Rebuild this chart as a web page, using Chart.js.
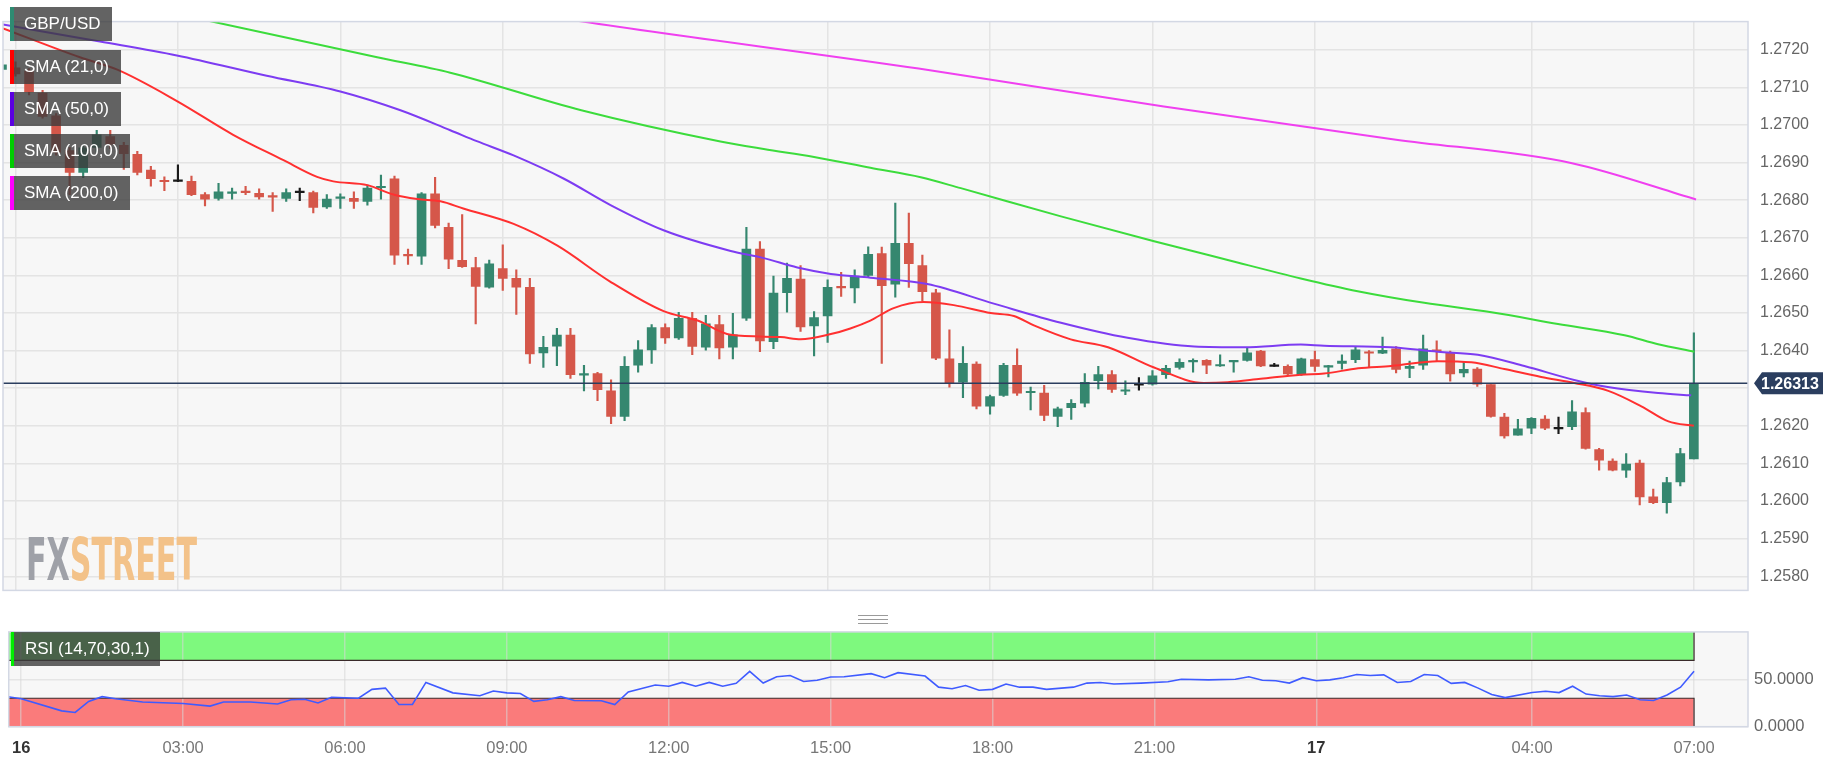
<!DOCTYPE html>
<html>
<head>
<meta charset="utf-8">
<script src="https://cdn.jsdelivr.net/npm/chart.js@4.4.1/dist/chart.umd.min.js"></script>
<style>
  body { margin: 0; background: #fff; font-family: 'Liberation Sans', Arial, sans-serif; }
  #wrap { position: relative; width: 1823px; height: 759px; overflow: hidden; }
  canvas { position: absolute; left: 0; }
  .tag { position: absolute; left: 10px; height: 34px; line-height: 34px; padding-left: 14px; box-sizing: border-box;
         background: rgba(60,60,60,0.8); color: #fff; font-size: 17px; white-space: nowrap; }
  .tag i { position: absolute; left: 0; top: 0; width: 4px; height: 100%; }
  #wm { position: absolute; left: 26px; top: 531px; font: bold 58px 'Liberation Sans Narrow', 'DejaVu Sans Condensed', sans-serif;
        line-height: 58px; white-space: nowrap; transform-origin: 0 0; }
  #grip { position: absolute; left: 858px; top: 615px; width: 30px; height: 7px; border-top: 1px solid #9a9a9a; border-bottom: 1px solid #9a9a9a; }
  #grip:after { content: ''; position: absolute; left: 0; right: 0; top: 3px; border-top: 1px solid #9a9a9a; }
</style>
</head>
<body>
<div id="wrap">
  <canvas id="main" width="1823" height="612" style="top:0"></canvas>
  <canvas id="rsi" width="1823" height="143" style="top:616px"></canvas>

  <div class="tag" style="top:7px;width:102px"><i style="background:#2e8b72"></i>GBP/USD</div>
  <div class="tag" style="top:50px;width:111px"><i style="background:#ff0000"></i>SMA (21,0)</div>
  <div class="tag" style="top:92px;width:111px"><i style="background:#5a00e0"></i>SMA (50,0)</div>
  <div class="tag" style="top:134px;width:120px"><i style="background:#00cc00"></i>SMA (100,0)</div>
  <div class="tag" style="top:176px;width:120px"><i style="background:#ff00ff"></i>SMA (200,0)</div>
  <div class="tag" style="top:632px;left:11px;width:149px"><i style="background:#00ee00;width:3px"></i>RSI (14,70,30,1)</div>

  <div id="wm"><span style="color:#9fa1a8">FX</span><span style="color:#f3c289">STREET</span></div>
  <div id="grip"></div>
</div>

<script>
// 15-minute candles, first one is 23:45 on the 15th, last one is 07:00 on the 17th
const opens = [
  1.27148, 1.27152, 1.27143, 1.27085, 1.27024, 1.26932, 1.26874, 1.26940, 1.26969, 1.26946,
  1.26922, 1.26880, 1.26853, 1.26850, 1.26850, 1.26815, 1.26805, 1.26818, 1.26823, 1.26818,
  1.26810, 1.26805, 1.26820, 1.26820, 1.26782, 1.26805, 1.26805, 1.26797, 1.26833, 1.26857,
  1.26656, 1.26651, 1.26817, 1.26728, 1.26640, 1.26621, 1.26569, 1.26618, 1.26592, 1.26568,
  1.26394, 1.26412, 1.26441, 1.26335, 1.26339, 1.26293, 1.26225, 1.26361, 1.26402, 1.26461,
  1.26434, 1.26486, 1.26409, 1.26469, 1.26409, 1.26486, 1.26670, 1.26424, 1.26554, 1.26590,
  1.26466, 1.26492, 1.26571, 1.26567, 1.26600, 1.26658, 1.26577, 1.26685, 1.26626, 1.26554,
  1.26378, 1.26316, 1.26364, 1.26252, 1.26281, 1.26361, 1.26288, 1.26287, 1.26225, 1.26248,
  1.26260, 1.26320, 1.26336, 1.26292, 1.26308, 1.26311, 1.26336, 1.26355, 1.26370, 1.26374,
  1.26359, 1.26370, 1.26374, 1.26399, 1.26358, 1.26358, 1.26336, 1.26376, 1.26356, 1.26366,
  1.26376, 1.26397, 1.26393, 1.26405, 1.26353, 1.26361, 1.26402, 1.26394, 1.26341, 1.26351,
  1.26310, 1.26223, 1.26175, 1.26194, 1.26218, 1.26192, 1.26198, 1.26235, 1.26137, 1.26106,
  1.26082, 1.26101, 1.26011, 1.25996, 1.26051, 1.26112
];
const highs = [
  1.27170, 1.27168, 1.27150, 1.27092, 1.27030, 1.26940, 1.26945, 1.26986, 1.26986, 1.26954,
  1.26930, 1.26890, 1.26862, 1.26894, 1.26864, 1.26820, 1.26845, 1.26832, 1.26837, 1.26830,
  1.26820, 1.26830, 1.26832, 1.26824, 1.26815, 1.26817, 1.26822, 1.26840, 1.26867, 1.26864,
  1.26670, 1.26820, 1.26861, 1.26739, 1.26762, 1.26648, 1.26641, 1.26681, 1.26615, 1.26592,
  1.26438, 1.26459, 1.26459, 1.26361, 1.26342, 1.26322, 1.26384, 1.26427, 1.26469, 1.26471,
  1.26502, 1.26502, 1.26494, 1.26494, 1.26499, 1.26728, 1.26690, 1.26598, 1.26633, 1.26626,
  1.26504, 1.26588, 1.26608, 1.26615, 1.26676, 1.26675, 1.26792, 1.26766, 1.26654, 1.26563,
  1.26455, 1.26411, 1.26370, 1.26282, 1.26366, 1.26405, 1.26303, 1.26308, 1.26250, 1.26270,
  1.26339, 1.26358, 1.26347, 1.26320, 1.26328, 1.26347, 1.26361, 1.26378, 1.26378, 1.26376,
  1.26389, 1.26373, 1.26409, 1.26401, 1.26366, 1.26362, 1.26380, 1.26399, 1.26361, 1.26389,
  1.26411, 1.26400, 1.26436, 1.26411, 1.26372, 1.26441, 1.26426, 1.26399, 1.26370, 1.26355,
  1.26310, 1.26233, 1.26217, 1.26222, 1.26227, 1.26223, 1.26267, 1.26248, 1.26140, 1.26112,
  1.26126, 1.26109, 1.26032, 1.26063, 1.26140, 1.26447
];
const lows = [
  1.27140, 1.27130, 1.27080, 1.27018, 1.26920, 1.26815, 1.26860, 1.26927, 1.26937, 1.26882,
  1.26867, 1.26837, 1.26825, 1.26849, 1.26812, 1.26785, 1.26800, 1.26803, 1.26815, 1.26803,
  1.26770, 1.26797, 1.26799, 1.26766, 1.26778, 1.26778, 1.26778, 1.26787, 1.26803, 1.26629,
  1.26629, 1.26629, 1.26726, 1.26618, 1.26621, 1.26471, 1.26566, 1.26560, 1.26496, 1.26366,
  1.26355, 1.26360, 1.26326, 1.26293, 1.26267, 1.26206, 1.26214, 1.26343, 1.26366, 1.26419,
  1.26430, 1.26389, 1.26401, 1.26378, 1.26378, 1.26480, 1.26397, 1.26405, 1.26502, 1.26451,
  1.26386, 1.26422, 1.26544, 1.26527, 1.26596, 1.26366, 1.26542, 1.26568, 1.26532, 1.26376,
  1.26303, 1.26275, 1.26245, 1.26231, 1.26278, 1.26281, 1.26242, 1.26214, 1.26198, 1.26217,
  1.26250, 1.26298, 1.26289, 1.26283, 1.26295, 1.26308, 1.26326, 1.26351, 1.26343, 1.26339,
  1.26358, 1.26343, 1.26372, 1.26357, 1.26358, 1.26335, 1.26334, 1.26345, 1.26330, 1.26351,
  1.26368, 1.26355, 1.26392, 1.26341, 1.26328, 1.26350, 1.26372, 1.26319, 1.26330, 1.26305,
  1.26223, 1.26167, 1.26175, 1.26179, 1.26190, 1.26179, 1.26190, 1.26138, 1.26082, 1.26080,
  1.26063, 1.25990, 1.25993, 1.25968, 1.26040, 1.26112
];
const closes = [
  1.27160, 1.27136, 1.27088, 1.27023, 1.26927, 1.26874, 1.26939, 1.26974, 1.26949, 1.26924,
  1.26874, 1.26857, 1.26849, 1.26850, 1.26815, 1.26803, 1.26822, 1.26820, 1.26820, 1.26809,
  1.26808, 1.26820, 1.26820, 1.26781, 1.26803, 1.26807, 1.26797, 1.26832, 1.26837, 1.26654,
  1.26652, 1.26817, 1.26733, 1.26643, 1.26623, 1.26571, 1.26631, 1.26592, 1.26569, 1.26391,
  1.26409, 1.26441, 1.26336, 1.26338, 1.26296, 1.26225, 1.26358, 1.26402, 1.26461, 1.26434,
  1.26486, 1.26411, 1.26471, 1.26407, 1.26442, 1.26670, 1.26426, 1.26553, 1.26592, 1.26463,
  1.26488, 1.26568, 1.26567, 1.26598, 1.26656, 1.26573, 1.26685, 1.26631, 1.26557, 1.26380,
  1.26314, 1.26366, 1.26252, 1.26278, 1.26361, 1.26287, 1.26292, 1.26228, 1.26245, 1.26260,
  1.26316, 1.26336, 1.26297, 1.26296, 1.26308, 1.26333, 1.26353, 1.26369, 1.26373, 1.26361,
  1.26361, 1.26372, 1.26394, 1.26359, 1.26358, 1.26338, 1.26378, 1.26358, 1.26358, 1.26372,
  1.26402, 1.26393, 1.26401, 1.26350, 1.26358, 1.26405, 1.26397, 1.26338, 1.26350, 1.26311,
  1.26225, 1.26173, 1.26192, 1.26220, 1.26194, 1.26192, 1.26237, 1.26140, 1.26109, 1.26082,
  1.26098, 1.26011, 1.25996, 1.26049, 1.26126, 1.26313
];

// moving averages (hours since 00:00 on the 16th)
const sma21Hours = [-0.23, 1.19, 1.88, 2.99, 4.02, 4.94, 5.57, 5.87, 6.50, 6.98, 7.42, 7.85, 8.27, 9.20, 10.01,
  10.99, 11.97, 12.60, 13.21, 14.13, 14.50, 15.06, 15.42, 15.79, 16.22, 16.77, 17.33, 18.01, 18.44, 18.81,
  19.49, 20.18, 21.03, 21.95, 22.39, 23.00, 23.74, 24.17, 24.80, 25.41, 26.27, 26.89, 27.50, 28.18, 28.79,
  29.42, 30.03, 30.53, 31.00];
const sma21 = [1.27257, 1.27180, 1.27147, 1.27063, 1.26974, 1.26907, 1.26862, 1.26850, 1.26840, 1.26815, 1.26803, 1.26797, 1.26778, 1.26737, 1.26679,
  1.26583, 1.26505, 1.26480, 1.26442, 1.26436, 1.26430, 1.26444, 1.26459, 1.26480, 1.26513, 1.26529, 1.26521, 1.26500, 1.26492, 1.26467,
  1.26430, 1.26409, 1.26355, 1.26314, 1.26316, 1.26325, 1.26336, 1.26339, 1.26353, 1.26359, 1.26372, 1.26369, 1.26351, 1.26330, 1.26314,
  1.26293, 1.26252, 1.26212, 1.26200];
const sma50Hours = [-0.23, 1.56, 2.98, 4.64, 6.00, 7.11, 8.03, 8.52, 9.20, 10.13, 10.99, 11.97, 13.21, 13.82, 14.44,
  15.06, 15.79, 16.84, 18.07, 19.31, 20.54, 21.77, 22.70, 23.74, 24.17, 25.41, 26.27, 27.01, 27.87, 28.79,
  29.41, 30.34, 30.95];
const sma50 = [1.27267, 1.27222, 1.27185, 1.27131, 1.27089, 1.27039, 1.26986, 1.26957, 1.26919, 1.26857, 1.26787, 1.26720, 1.26665, 1.26646, 1.26621,
  1.26604, 1.26594, 1.26577, 1.26525, 1.26474, 1.26434, 1.26411, 1.26409, 1.26416, 1.26413, 1.26409, 1.26397, 1.26389, 1.26359, 1.26322,
  1.26303, 1.26287, 1.26281];
const sma100Hours = [2.50, 3.47, 6.68, 8.03, 10.45, 13.02, 13.82, 14.75, 15.79, 16.72, 17.46, 19.31, 21.03, 22.39, 23.74,
  24.79, 26.02, 27.26, 28.49, 29.72, 30.34, 31.01];
const sma100 = [1.27310, 1.27280, 1.27180, 1.27139, 1.27039, 1.26956, 1.26936, 1.26915, 1.26886, 1.26861, 1.26832, 1.26757, 1.26691, 1.26641, 1.26592,
  1.26558, 1.26527, 1.26502, 1.26471, 1.26441, 1.26417, 1.26397];
const sma200Hours = [9.00, 10.25, 16.68, 21.21, 25.50, 28.73, 31.04];
const sma200 = [1.27310, 1.27280, 1.27150, 1.27049, 1.26961, 1.26899, 1.26802];

// RSI readings: candle number (0 = 00:00 on the 16th) and value
const rsiCandle = [-1, 0, 3, 4, 5, 6, 7, 9, 11, 12, 14, 15, 17, 19, 20, 21, 22, 23, 25, 26,
  27, 28, 29, 30, 32, 34, 35, 36, 37, 38, 39, 40, 41, 43, 44, 45, 47, 48, 49, 50,
  51, 52, 53, 54, 55, 56, 57, 58, 59, 60, 61, 63, 64, 65, 67, 68, 69, 70, 71, 72,
  73, 74, 75, 76, 78, 79, 80, 81, 83, 85, 86, 88, 90, 91, 92, 93, 94, 95, 96, 97,
  98, 99, 100, 101, 102, 103, 104, 105, 106, 107, 108, 109, 110, 112, 113, 114, 115, 116, 117, 118,
  119, 120, 121, 122, 123, 124];
const rsiValues = [31.7, 29.4, 16.7, 15, 26.7, 31.7, 29.4, 26, 25, 24.4, 21.7, 26, 26, 24, 28.4, 29, 25, 31, 30, 39.4,
  40.7, 23.4, 23.4, 46.7, 35.7, 32.7, 37.7, 35.7, 35, 26.7, 28.4, 31.7, 27.7, 27.4, 23.4, 36.7, 44, 42.7, 46.7, 42.7,
  46.7, 42.7, 45.7, 58.4, 46, 52.7, 54, 47.7, 49, 52.4, 52.7, 56, 51.7, 57, 53.4, 41.7, 40, 43.4, 38.4, 39.4,
  45, 41.7, 41.7, 39.4, 41.7, 46, 46.7, 45, 46, 47.4, 50, 49.4, 50, 52.7, 49, 48.4, 46, 51.7, 48.4, 49.4,
  51.7, 55, 54, 54.7, 46.7, 47.7, 55, 54, 45.7, 46.7, 40.7, 34, 30.7, 36, 37.4, 36, 42.7, 34.4, 32.7, 31.7,
  33.4, 28.4, 27.7, 33.4, 41.7, 58.4];

const timeTicks = [0, 3, 6, 9, 12, 15, 18, 21, 24, 28, 31];
const priceTicks = [1.2580, 1.2590, 1.2600, 1.2610, 1.2620, 1.2630, 1.2640, 1.2650, 1.2660,
  1.2670, 1.2680, 1.2690, 1.2700, 1.2710, 1.2720];
const rsiTicks = [0, 50];
const rsiUpper = 70, rsiLower = 30;

const xMin = -0.231, xMax = 32.0;
const FONT = "'Liberation Sans', Arial, sans-serif";
const UP = '#35876f', DOWN = '#d5574a', FLAT = '#1a1a1a';

const candleHours = opens.map((_, k) => (k - 1) / 4);
const lastPrice = closes[closes.length - 1];
const candleColors = opens.map((o, k) => closes[k] > o ? UP : closes[k] < o ? DOWN : FLAT);

function tickLabel(h) {
  if (h === 0) return '16';
  if (h === 24) return '17';
  return String(h % 24).padStart(2, '0') + ':00';
}

const panelBg = {
  id: 'panelBg',
  beforeDraw(chart) {
    const { ctx, chartArea: a } = chart;
    ctx.save();
    ctx.fillStyle = '#f7f7f7';
    ctx.fillRect(a.left, a.top, a.right - a.left, a.bottom - a.top);
    ctx.restore();
  },
  afterDraw(chart) {
    const { ctx, chartArea: a } = chart;
    ctx.save();
    ctx.strokeStyle = '#d3d8e4';
    ctx.lineWidth = 1.5;
    ctx.strokeRect(a.left, a.top, a.right - a.left, a.bottom - a.top);
    ctx.restore();
  }
};

const priceLine = {
  id: 'priceLine',
  afterDatasetsDraw(chart) {
    const { ctx, chartArea: a } = chart;
    const y = chart.scales.y.getPixelForValue(lastPrice);
    ctx.save();
    ctx.strokeStyle = '#2b3e5f';
    ctx.lineWidth = 1.5;
    ctx.beginPath();
    ctx.moveTo(a.left, y);
    ctx.lineTo(a.right, y);
    ctx.stroke();
    ctx.restore();
  },
  afterDraw(chart) {
    const { ctx, chartArea: a } = chart;
    const y = chart.scales.y.getPixelForValue(lastPrice);
    const x0 = a.right + 6;
    ctx.save();
    ctx.fillStyle = '#2b3e5f';
    ctx.beginPath();
    ctx.moveTo(x0, y);
    ctx.lineTo(x0 + 8, y - 11);
    ctx.lineTo(chart.width, y - 11);
    ctx.lineTo(chart.width, y + 11);
    ctx.lineTo(x0 + 8, y + 11);
    ctx.closePath();
    ctx.fill();
    ctx.fillStyle = '#fff';
    ctx.font = 'bold 16px ' + FONT;
    ctx.textBaseline = 'middle';
    ctx.fillText(lastPrice.toFixed(5), x0 + 7, y + 1);
    ctx.restore();
  }
};

function smaLine(hours, values, color) {
  return {
    type: 'line',
    data: hours.map((h, k) => ({ x: h, y: values[k] })),
    borderColor: color,
    borderWidth: 2,
    pointRadius: 0,
    cubicInterpolationMode: 'monotone',
    order: 0
  };
}

new Chart(document.getElementById('main'), {
  type: 'bar',
  data: {
    datasets: [
      smaLine(sma21Hours, sma21, '#ff3030'),
      smaLine(sma50Hours, sma50, '#7d3cf2'),
      smaLine(sma100Hours, sma100, '#3cdc3c'),
      smaLine(sma200Hours, sma200, '#f040f0'),
      {
        // candle bodies
        data: opens.map((o, k) => ({ x: candleHours[k], y: [o, closes[k]] })),
        backgroundColor: candleColors,
        barThickness: 9,
        minBarLength: 1.5,
        grouped: false,
        order: 1
      },
      {
        // wicks
        data: lows.map((l, k) => ({ x: candleHours[k], y: [l, highs[k]] })),
        backgroundColor: candleColors,
        barThickness: 1.5,
        grouped: false,
        order: 2
      }
    ]
  },
  options: {
    responsive: false,
    animation: false,
    devicePixelRatio: 1,
    layout: { padding: { left: 3, top: 2, right: 0, bottom: 2 } },
    plugins: { legend: { display: false }, tooltip: { enabled: false } },
    scales: {
      x: {
        type: 'linear', min: xMin, max: xMax, offset: false,
        grid: { color: '#e4e4e4', lineWidth: 1.5, drawTicks: false, offset: false },
        border: { display: false },
        ticks: { display: false },
        afterBuildTicks: s => { s.ticks = timeTicks.map(v => ({ value: v })); },
        afterFit: s => { s.height = 0; }
      },
      y: {
        position: 'right', min: 1.257624, max: 1.272749,
        grid: { color: '#e4e4e4', lineWidth: 1.5, drawTicks: false },
        border: { display: false },
        ticks: { padding: 12, color: '#666', font: { size: 16, family: FONT }, callback: v => v.toFixed(4) },
        afterBuildTicks: s => { s.ticks = priceTicks.map(v => ({ value: v })); },
        afterFit: s => { s.width = 75; }
      }
    }
  },
  plugins: [panelBg, priceLine]
});

const rsiBands = {
  id: 'rsiBands',
  beforeDraw(chart) {
    const { ctx, chartArea: a, scales } = chart;
    const xr = scales.x.getPixelForValue(candleHours[candleHours.length - 1]);
    const y100 = scales.y.getPixelForValue(100), y70 = scales.y.getPixelForValue(rsiUpper);
    const y30 = scales.y.getPixelForValue(rsiLower), y0 = scales.y.getPixelForValue(0);
    ctx.save();
    ctx.fillStyle = '#f7f7f7';
    ctx.fillRect(a.left, a.top, a.right - a.left, a.bottom - a.top);
    ctx.fillStyle = '#7ef97e';
    ctx.fillRect(a.left, y100, xr - a.left, y70 - y100);
    ctx.fillStyle = '#fa7b7b';
    ctx.fillRect(a.left, y30, xr - a.left, y0 - y30);
    ctx.restore();
  },
  beforeDatasetsDraw(chart) {
    const { ctx, chartArea: a, scales } = chart;
    const xr = scales.x.getPixelForValue(candleHours[candleHours.length - 1]);
    const y100 = scales.y.getPixelForValue(100), y70 = scales.y.getPixelForValue(rsiUpper);
    const y30 = scales.y.getPixelForValue(rsiLower), y0 = scales.y.getPixelForValue(0);
    ctx.save();
    ctx.strokeStyle = '#3a2a2a';
    ctx.lineWidth = 1.2;
    ctx.beginPath();
    ctx.moveTo(a.left, y70); ctx.lineTo(xr, y70); ctx.lineTo(xr, y100);
    ctx.moveTo(a.left, y30); ctx.lineTo(xr, y30); ctx.lineTo(xr, y0);
    ctx.stroke();
    ctx.restore();
  },
  afterDraw: panelBg.afterDraw
};

new Chart(document.getElementById('rsi'), {
  type: 'line',
  data: {
    datasets: [{
      data: rsiCandle.map((c, k) => ({ x: c / 4, y: rsiValues[k] })),
      borderColor: '#3f5bff',
      borderWidth: 1.6,
      pointRadius: 0,
      tension: 0
    }]
  },
  options: {
    responsive: false,
    animation: false,
    devicePixelRatio: 1,
    layout: { padding: { left: 3, top: 10.7, right: 0, bottom: 0 } },
    plugins: { legend: { display: false }, tooltip: { enabled: false } },
    scales: {
      x: {
        type: 'linear', min: xMin, max: xMax, offset: false,
        grid: { color: 'rgba(215,215,215,0.55)', lineWidth: 1.5, drawTicks: false, offset: false },
        border: { display: false },
        ticks: {
          padding: 12, autoSkip: false, maxRotation: 0,
          color: c => (c.tick && (c.tick.value === 0 || c.tick.value === 24)) ? '#333' : '#777',
          font: c => ({ size: 16.5, family: FONT,
                        weight: (c.tick && (c.tick.value === 0 || c.tick.value === 24)) ? 'bold' : 'normal' }),
          callback: v => tickLabel(v)
        },
        afterBuildTicks: s => { s.ticks = timeTicks.map(v => ({ value: v })); },
        afterFit: s => { s.height = 32.3; }
      },
      y: {
        position: 'right', min: 0, max: 100,
        grid: { color: 'rgba(215,215,215,0.55)', lineWidth: 1.5, drawTicks: false },
        border: { display: false },
        ticks: { padding: 6, color: '#666', font: { size: 16.5, family: FONT }, callback: v => v.toFixed(4) },
        afterBuildTicks: s => { s.ticks = rsiTicks.map(v => ({ value: v })); },
        afterFit: s => { s.width = 75; }
      }
    }
  },
  plugins: [rsiBands]
});

// squeeze the watermark to the width it has in the picture
const wm = document.getElementById('wm');
wm.style.transform = 'scaleX(' + (171 / wm.getBoundingClientRect().width) + ')';
</script>
</body>
</html>
